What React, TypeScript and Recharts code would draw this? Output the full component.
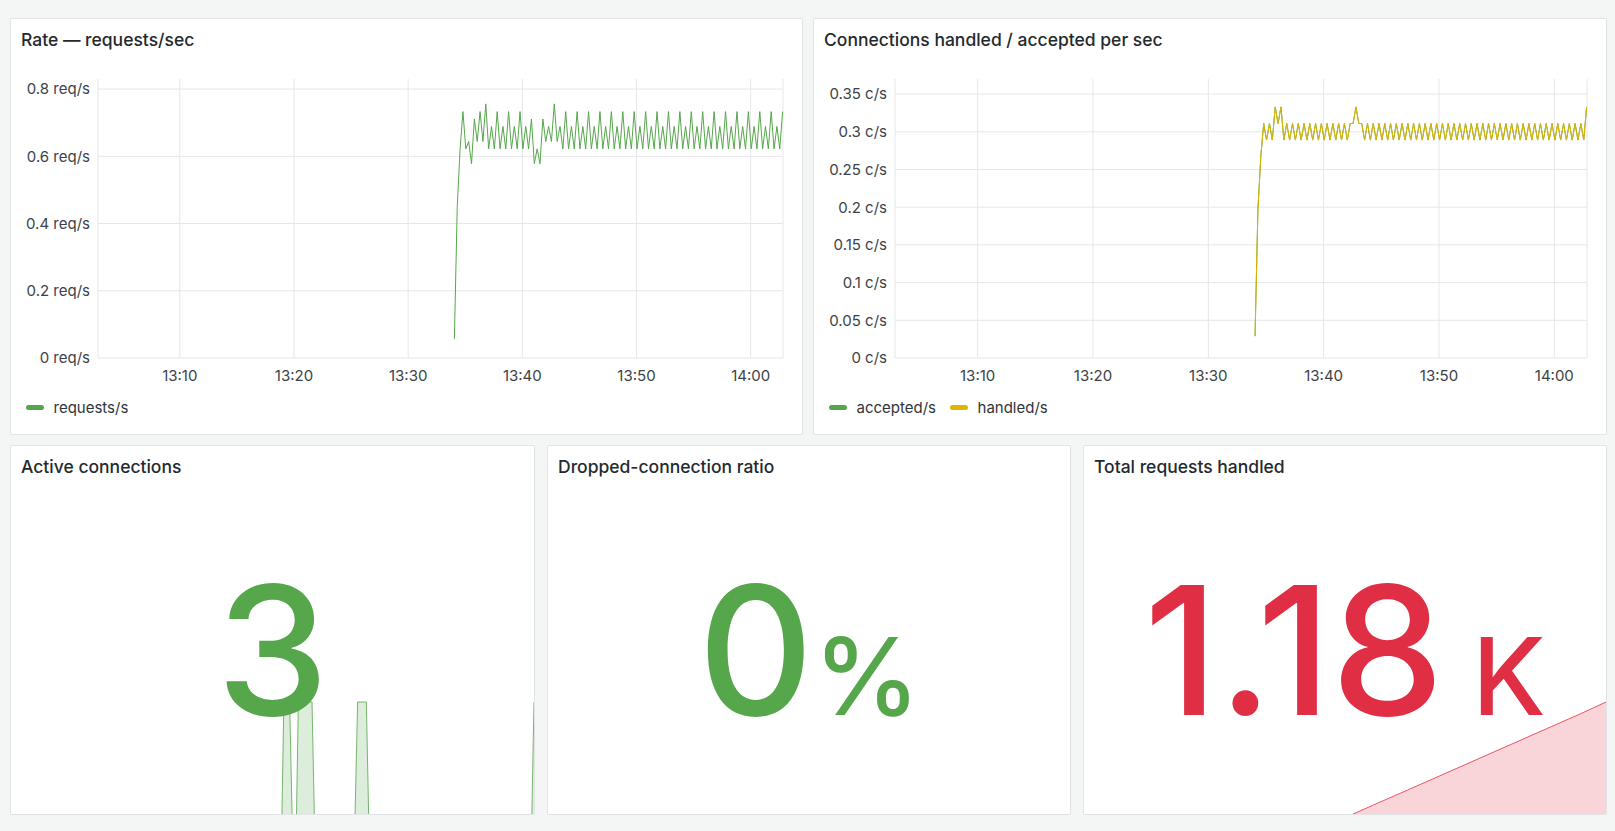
import React from "react";
import { LineChart, Line, XAxis, YAxis, CartesianGrid, AreaChart, Area } from "recharts";

const FONT = "Inter, 'Noto Sans', sans-serif";
const GREEN = "#56A64B";
const YELLOW = "#E0B400";
const RED = "#E02F44";

// dashboard window (last 1h) and scrape step
const rangeFrom = "13:02:50";
const rangeTo = "14:02:50";
const firstSample = "13:34:03";
const stepSeconds = 15;

const timeTickLabels = ["13:10", "13:20", "13:30", "13:40", "13:50", "14:00"];
const rateTicks = [0, 0.2, 0.4, 0.6, 0.8];
const rateMax = 0.83;
const connTicks = [0, 0.05, 0.1, 0.15, 0.2, 0.25, 0.3, 0.35];
const connMax = 0.37;

const requestsPerSec = [
  0.056, 0.45, 0.622, 0.733, 0.622, 0.644, 0.578, 0.711, 0.644, 0.733,
  0.644, 0.756, 0.622, 0.689, 0.622, 0.733, 0.622, 0.689, 0.622, 0.733,
  0.622, 0.689, 0.622, 0.733, 0.622, 0.689, 0.622, 0.711, 0.578, 0.622,
  0.578, 0.711, 0.644, 0.689, 0.644, 0.756, 0.644, 0.689, 0.622, 0.733,
  0.622, 0.689, 0.622, 0.733, 0.622, 0.689, 0.622, 0.733,
  0.622, 0.689, 0.622, 0.733, 0.622, 0.689, 0.622, 0.733,
  0.622, 0.689, 0.622, 0.733, 0.622, 0.689, 0.622, 0.733,
  0.622, 0.689, 0.622, 0.733, 0.622, 0.689, 0.622, 0.733,
  0.622, 0.689, 0.622, 0.733, 0.622, 0.689, 0.622, 0.733,
  0.622, 0.689, 0.622, 0.733, 0.622, 0.689, 0.622, 0.733,
  0.622, 0.689, 0.622, 0.733, 0.622, 0.689, 0.622, 0.733,
  0.622, 0.689, 0.622, 0.733, 0.622, 0.689, 0.622, 0.733,
  0.622, 0.689, 0.622, 0.733, 0.622, 0.689, 0.622, 0.733,
  0.622, 0.689, 0.622, 0.733,
];

const handledPerSec = [
  0.029, 0.197, 0.267, 0.311, 0.289, 0.311, 0.289, 0.333, 0.311, 0.333,
  0.289, 0.311, 0.289, 0.311, 0.289, 0.311, 0.289, 0.311, 0.289, 0.311,
  0.289, 0.311, 0.289, 0.311, 0.289, 0.311, 0.289, 0.311, 0.289, 0.311,
  0.289, 0.311, 0.289, 0.311, 0.311, 0.333, 0.311, 0.311, 0.289, 0.311,
  0.289, 0.311, 0.289, 0.311, 0.289, 0.311, 0.289, 0.311, 0.289, 0.311,
  0.289, 0.311, 0.289, 0.311, 0.289, 0.311, 0.289, 0.311, 0.289, 0.311,
  0.289, 0.311, 0.289, 0.311, 0.289, 0.311, 0.289, 0.311, 0.289, 0.311,
  0.289, 0.311, 0.289, 0.311, 0.289, 0.311, 0.289, 0.311, 0.289, 0.311,
  0.289, 0.311, 0.289, 0.311, 0.289, 0.311, 0.289, 0.311, 0.289, 0.311,
  0.289, 0.311, 0.289, 0.311, 0.289, 0.311, 0.289, 0.311, 0.289, 0.311,
  0.289, 0.311, 0.289, 0.311, 0.289, 0.311, 0.289, 0.311, 0.289, 0.311,
  0.289, 0.311, 0.289, 0.311, 0.289, 0.333,
];
// accepted/s sits exactly under handled/s in the picture
const acceptedPerSec = [...handledPerSec];

const activeConnTimes = [
  "13:33:55", "13:34:08", "13:34:48", "13:35:05", "13:35:35", "13:35:48", "13:37:22",
  "13:37:38", "13:42:18", "13:42:36", "13:43:36", "13:43:52", "14:02:35", "14:02:50",
];
const activeConnValues = [1, 3, 3, 1, 1, 3, 3, 1, 1, 3, 3, 1, 1, 3];

const totalReqTimes = [
  "13:33:15", "13:36:00", "13:40:00", "13:44:00", "13:48:00",
  "13:52:00", "13:56:00", "14:00:00", "14:02:50",
];
const totalReqValues = [0, 110, 268, 427, 586, 745, 904, 1063, 1181];

const toSec = (hms: string) => {
  const [h, m, s = "0"] = hms.split(":");
  return +h * 3600 + +m * 60 + +s;
};
const fmtTime = (v: number) => {
  const h = Math.floor(v / 3600);
  const m = Math.floor((v % 3600) / 60);
  return `${String(h).padStart(2, "0")}:${String(m).padStart(2, "0")}`;
};

const T0 = toSec(rangeFrom);
const T1 = toSec(rangeTo);
const timeTicks = timeTickLabels.map(toSec);
const sampleTimes = requestsPerSec.map((_, i) => toSec(firstSample) + i * stepSeconds);

const rateData = sampleTimes.map((t, i) => ({ t, requests: requestsPerSec[i] }));
const connData = sampleTimes.map((t, i) => ({
  t,
  accepted: acceptedPerSec[i],
  handled: handledPerSec[i],
}));
const activeData = activeConnTimes.map((s, i) => ({ t: toSec(s), v: activeConnValues[i] }));
const totalData = totalReqTimes.map((s, i) => ({ t: toSec(s), v: totalReqValues[i] }));

const tickStyle = { fontFamily: FONT, fontSize: 15, fill: "#3d4248" };

// horizontal grid only at the tick values (no line along the plot top)
const gridY = (ticks: number[], max: number) => ({ offset }: any) =>
  ticks.map((t) => offset.top + offset.height * (1 - t / max));

const Panel = ({ x, y, w, h, title, children }: any) => (
  <div
    style={{
      position: "absolute",
      left: x,
      top: y,
      width: w,
      height: h,
      boxSizing: "border-box",
      background: "#fff",
      border: "1px solid #e2e3e5",
      borderRadius: 2,
      overflow: "hidden",
    }}
  >
    {children}
    <div
      style={{
        position: "absolute",
        left: 10,
        top: 9,
        lineHeight: "24px",
        fontSize: 17.5,
        fontWeight: 500,
        color: "#24292e",
        whiteSpace: "nowrap",
      }}
    >
      {title}
    </div>
  </div>
);

const LegendRow = ({ items }: { items: { label: string; color: string }[] }) => (
  <div
    style={{
      position: "absolute",
      left: 15,
      top: 376,
      height: 24,
      display: "flex",
      alignItems: "center",
      fontSize: 15,
      color: "#2f353b",
    }}
  >
    {items.map((it) => (
      <div key={it.label} style={{ display: "flex", alignItems: "center", marginRight: 14 }}>
        <span
          style={{
            display: "inline-block",
            width: 17.5,
            height: 5,
            borderRadius: 3,
            background: it.color,
            marginRight: 10,
          }}
        />
        <span>{it.label}</span>
      </div>
    ))}
  </div>
);

const StatValue = ({ w, value, unit, color }: any) => (
  <svg width={w} height={368} style={{ position: "absolute", left: 0, top: 0 }}>
    <text x={w / 2} y={268.5} textAnchor="middle" fill={color} fontFamily={FONT} fontWeight={500}>
      <tspan fontSize={179}>{value}</tspan>
      {unit ? <tspan fontSize={107}>{unit}</tspan> : null}
    </text>
  </svg>
);

// bottom edge (min value) sits under the panel border, as in Grafana
const Sparkline = ({ w, data, color }: any) => (
  <div style={{ position: "absolute", left: 0, top: 255 }}>
    <AreaChart width={w} height={115} data={data} margin={{ top: 1, right: 0, bottom: 0, left: 0 }}>
      <XAxis dataKey="t" type="number" domain={[T0, T1]} hide />
      <YAxis domain={["dataMin", "dataMax"]} hide />
      <Area
        type="linear"
        dataKey="v"
        stroke={color}
        strokeWidth={1}
        strokeOpacity={0.8}
        fill={color}
        fillOpacity={0.2}
        dot={false}
        activeDot={false}
        isAnimationActive={false}
      />
    </AreaChart>
  </div>
);

export default function App() {
  return (
    <div
      style={{
        position: "fixed",
        left: 0,
        top: 0,
        width: 1615,
        height: 831,
        background: "#f4f5f5",
        fontFamily: FONT,
        overflow: "hidden",
      }}
    >
      <Panel x={10} y={18} w={793} h={417} title="Rate — requests/sec">
        <LineChart width={791} height={415} data={rateData} margin={{ top: 60, right: 19, bottom: 46, left: 0 }}>
          <CartesianGrid stroke="#e6e7e8" horizontalCoordinatesGenerator={gridY(rateTicks, rateMax)} />
          <XAxis
            dataKey="t"
            type="number"
            domain={[T0, T1]}
            ticks={timeTicks}
            tickFormatter={fmtTime}
            axisLine={false}
            tickLine={false}
            tickSize={0}
            tickMargin={12}
            height={30}
            tick={tickStyle}
            allowDataOverflow
          />
          <YAxis
            type="number"
            domain={[0, rateMax]}
            ticks={rateTicks}
            tickFormatter={(v: number) => `${v} req/s`}
            axisLine={false}
            tickLine={false}
            tickSize={0}
            tickMargin={8}
            width={87}
            tick={tickStyle}
            allowDataOverflow
          />
          <Line type="linear" dataKey="requests" stroke={GREEN} strokeWidth={1} dot={false} isAnimationActive={false} />
        </LineChart>
        <LegendRow items={[{ label: "requests/s", color: GREEN }]} />
      </Panel>

      <Panel x={813} y={18} w={794} h={417} title="Connections handled / accepted per sec">
        <LineChart width={792} height={415} data={connData} margin={{ top: 60, right: 19, bottom: 46, left: 0 }}>
          <CartesianGrid stroke="#e6e7e8" horizontalCoordinatesGenerator={gridY(connTicks, connMax)} />
          <XAxis
            dataKey="t"
            type="number"
            domain={[T0, T1]}
            ticks={timeTicks}
            tickFormatter={fmtTime}
            axisLine={false}
            tickLine={false}
            tickSize={0}
            tickMargin={12}
            height={30}
            tick={tickStyle}
            allowDataOverflow
          />
          <YAxis
            type="number"
            domain={[0, connMax]}
            ticks={connTicks}
            tickFormatter={(v: number) => `${v} c/s`}
            axisLine={false}
            tickLine={false}
            tickSize={0}
            tickMargin={8}
            width={81}
            tick={tickStyle}
            allowDataOverflow
          />
          <Line type="linear" dataKey="accepted" stroke={GREEN} strokeWidth={1} dot={false} isAnimationActive={false} />
          <Line type="linear" dataKey="handled" stroke={YELLOW} strokeWidth={1} dot={false} isAnimationActive={false} />
        </LineChart>
        <LegendRow
          items={[
            { label: "accepted/s", color: GREEN },
            { label: "handled/s", color: YELLOW },
          ]}
        />
      </Panel>

      <Panel x={10} y={445} w={525} h={370} title="Active connections">
        <Sparkline w={523} data={activeData} color={GREEN} />
        <StatValue w={523} value="3" color={GREEN} />
      </Panel>

      <Panel x={547} y={445} w={524} h={370} title="Dropped-connection ratio">
        <StatValue w={522} value="0" unit="%" color={GREEN} />
      </Panel>

      <Panel x={1083} y={445} w={524} h={370} title="Total requests handled">
        <Sparkline w={522} data={totalData} color={RED} />
        <StatValue w={522} value="1.18" unit={"\u00a0K"} color={RED} />
      </Panel>
    </div>
  );
}
